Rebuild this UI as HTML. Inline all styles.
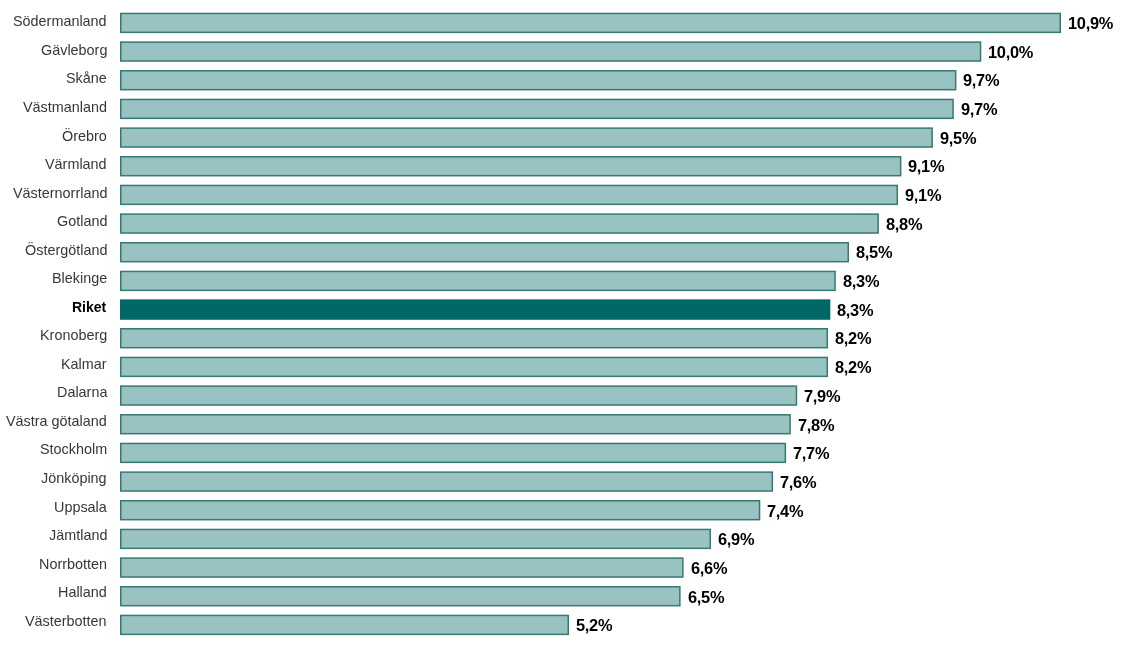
<!DOCTYPE html>
<html><head><meta charset="utf-8"><style>
html,body{margin:0;padding:0;background:#fff;width:1137px;height:658px;overflow:hidden;position:relative}
svg{position:absolute;left:0;top:0}
.lbl{position:absolute;right:1030.0px;font-family:"Liberation Sans",sans-serif;font-size:14.4px;color:#373737;line-height:0;white-space:nowrap;will-change:transform}
.lbl.b{font-weight:bold;color:#000;font-size:14px;margin-right:0.6px}
.val{position:absolute;font-family:"Liberation Sans",sans-serif;font-weight:bold;font-size:16.4px;color:#000;line-height:0;white-space:nowrap;letter-spacing:-0.3px;will-change:transform}
</style></head><body>
<svg width="1137" height="658" viewBox="0 0 1137 658">
<rect x="120.75" y="13.45" width="939.50" height="18.90" fill="#98c3c2" stroke="#367970" stroke-width="1.5"/>
<rect x="120.75" y="42.12" width="859.80" height="18.90" fill="#98c3c2" stroke="#367970" stroke-width="1.5"/>
<rect x="120.75" y="70.78" width="834.90" height="18.90" fill="#98c3c2" stroke="#367970" stroke-width="1.5"/>
<rect x="120.75" y="99.45" width="832.30" height="18.90" fill="#98c3c2" stroke="#367970" stroke-width="1.5"/>
<rect x="120.75" y="128.12" width="811.40" height="18.90" fill="#98c3c2" stroke="#367970" stroke-width="1.5"/>
<rect x="120.75" y="156.78" width="779.90" height="18.90" fill="#98c3c2" stroke="#367970" stroke-width="1.5"/>
<rect x="120.75" y="185.45" width="776.50" height="18.90" fill="#98c3c2" stroke="#367970" stroke-width="1.5"/>
<rect x="120.75" y="214.12" width="757.40" height="18.90" fill="#98c3c2" stroke="#367970" stroke-width="1.5"/>
<rect x="120.75" y="242.78" width="727.50" height="18.90" fill="#98c3c2" stroke="#367970" stroke-width="1.5"/>
<rect x="120.75" y="271.45" width="714.30" height="18.90" fill="#98c3c2" stroke="#367970" stroke-width="1.5"/>
<rect x="120.0" y="299.37" width="710.30" height="20.4" fill="#006766"/>
<rect x="120.75" y="328.78" width="706.50" height="18.90" fill="#98c3c2" stroke="#367970" stroke-width="1.5"/>
<rect x="120.75" y="357.45" width="706.50" height="18.90" fill="#98c3c2" stroke="#367970" stroke-width="1.5"/>
<rect x="120.75" y="386.12" width="675.70" height="18.90" fill="#98c3c2" stroke="#367970" stroke-width="1.5"/>
<rect x="120.75" y="414.78" width="669.30" height="18.90" fill="#98c3c2" stroke="#367970" stroke-width="1.5"/>
<rect x="120.75" y="443.45" width="664.60" height="18.90" fill="#98c3c2" stroke="#367970" stroke-width="1.5"/>
<rect x="120.75" y="472.12" width="651.60" height="18.90" fill="#98c3c2" stroke="#367970" stroke-width="1.5"/>
<rect x="120.75" y="500.78" width="638.80" height="18.90" fill="#98c3c2" stroke="#367970" stroke-width="1.5"/>
<rect x="120.75" y="529.45" width="589.50" height="18.90" fill="#98c3c2" stroke="#367970" stroke-width="1.5"/>
<rect x="120.75" y="558.12" width="562.10" height="18.90" fill="#98c3c2" stroke="#367970" stroke-width="1.5"/>
<rect x="120.75" y="586.78" width="559.10" height="18.90" fill="#98c3c2" stroke="#367970" stroke-width="1.5"/>
<rect x="120.75" y="615.45" width="447.50" height="18.90" fill="#98c3c2" stroke="#367970" stroke-width="1.5"/>
</svg>
<div class="lbl" style="top:21.40px">Södermanland</div>
<div class="val" style="top:23.00px;left:1068.00px">10,9%</div>
<div class="lbl" style="top:49.94px">Gävleborg</div>
<div class="val" style="top:51.68px;left:988.30px">10,0%</div>
<div class="lbl" style="top:78.48px">Skåne</div>
<div class="val" style="top:80.36px;left:963.40px">9,7%</div>
<div class="lbl" style="top:107.01px">Västmanland</div>
<div class="val" style="top:109.04px;left:960.80px">9,7%</div>
<div class="lbl" style="top:135.55px">Örebro</div>
<div class="val" style="top:137.72px;left:939.90px">9,5%</div>
<div class="lbl" style="top:164.09px">Värmland</div>
<div class="val" style="top:166.40px;left:908.40px">9,1%</div>
<div class="lbl" style="top:192.63px">Västernorrland</div>
<div class="val" style="top:195.09px;left:905.00px">9,1%</div>
<div class="lbl" style="top:221.17px">Gotland</div>
<div class="val" style="top:223.77px;left:885.90px">8,8%</div>
<div class="lbl" style="top:249.70px">Östergötland</div>
<div class="val" style="top:252.45px;left:856.00px">8,5%</div>
<div class="lbl" style="top:278.24px">Blekinge</div>
<div class="val" style="top:281.13px;left:842.80px">8,3%</div>
<div class="lbl b" style="top:306.78px">Riket</div>
<div class="val" style="top:309.81px;left:837.30px">8,3%</div>
<div class="lbl" style="top:335.32px">Kronoberg</div>
<div class="val" style="top:338.49px;left:835.00px">8,2%</div>
<div class="lbl" style="top:363.86px">Kalmar</div>
<div class="val" style="top:367.17px;left:835.00px">8,2%</div>
<div class="lbl" style="top:392.40px">Dalarna</div>
<div class="val" style="top:395.85px;left:804.20px">7,9%</div>
<div class="lbl" style="top:420.93px">Västra götaland</div>
<div class="val" style="top:424.53px;left:797.80px">7,8%</div>
<div class="lbl" style="top:449.47px">Stockholm</div>
<div class="val" style="top:453.21px;left:793.10px">7,7%</div>
<div class="lbl" style="top:478.01px">Jönköping</div>
<div class="val" style="top:481.90px;left:780.10px">7,6%</div>
<div class="lbl" style="top:506.55px">Uppsala</div>
<div class="val" style="top:510.58px;left:767.30px">7,4%</div>
<div class="lbl" style="top:535.09px">Jämtland</div>
<div class="val" style="top:539.26px;left:718.00px">6,9%</div>
<div class="lbl" style="top:563.62px">Norrbotten</div>
<div class="val" style="top:567.94px;left:690.60px">6,6%</div>
<div class="lbl" style="top:592.16px">Halland</div>
<div class="val" style="top:596.62px;left:687.60px">6,5%</div>
<div class="lbl" style="top:620.70px">Västerbotten</div>
<div class="val" style="top:625.30px;left:576.00px">5,2%</div>
</body></html>
